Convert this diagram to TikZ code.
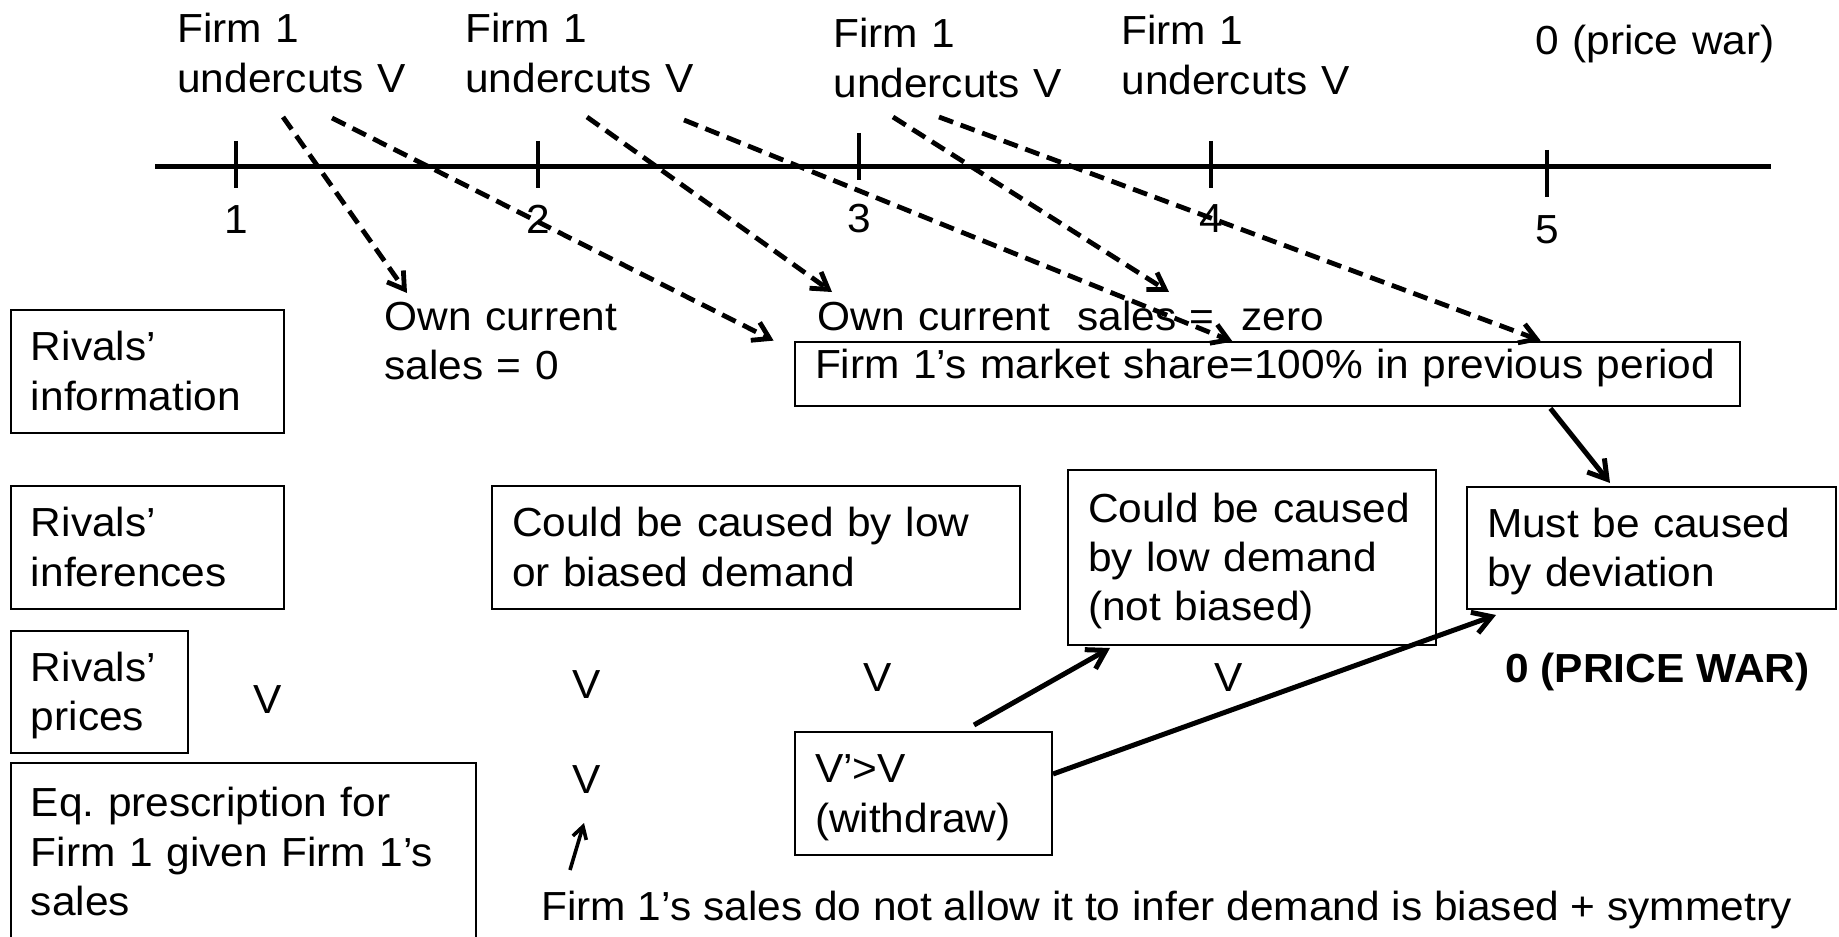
\documentclass[tikz,border=0pt]{standalone}
\usepackage{fontspec}
\setmainfont{Liberation Sans}[FakeStretch=1.045]
\usetikzlibrary{arrows.meta}
\newcommand{\slidesize}{\fontsize{20.3pt}{24.7pt}\selectfont}

\begin{document}
\begin{tikzpicture}[x=0.5pt, y=-0.5pt,
    every node/.style={inner sep=0pt, font=\slidesize},
    txt/.style={anchor=base west, align=left, text width=#1}, txt/.default=125pt,
    box/.style={draw, line width=1pt, align=left, inner xsep=10pt,
                text height=14pt, text depth=#1}, box/.default=24.7pt,
    hint/.style={-{Straight Barb[length=8pt,width=10pt]}, line width=2.4pt,
                 dash pattern=on 7.5pt off 4pt},
    infer/.style={-{Straight Barb[length=9pt,width=11pt]}, line width=2.5pt}]
    \useasboundingbox[fill=white] (0,0) rectangle (1839,936);

    % time line
    \draw[line width=2.5pt] (155,167) -- (1771,167);
    \draw[line width=2pt] (236,141) -- (236,188);
    \draw[line width=2pt] (538,141) -- (538,188);
    \draw[line width=2pt] (859,133) -- (859,180);
    \draw[line width=2pt] (1211,141) -- (1211,188);
    \draw[line width=2pt] (1547,150) -- (1547,197);
    \node[anchor=base] (t1) at (236,234) {1};
    \node[anchor=base] (t2) at (538,234) {2};
    \node[anchor=base] (t3) at (859,233) {3};
    \node[anchor=base] (t4) at (1211,233) {4};
    \node[anchor=base] (t5) at (1547,243) {5};

    % what firm 1 does in each period
    \node[txt] (lbl1) at (177,43) {Firm 1\\undercuts V};
    \node[txt] (lbl2) at (465,43) {Firm 1\\undercuts V};
    \node[txt] (lbl3) at (833,48) {Firm 1\\undercuts V};
    \node[txt] (lbl4) at (1121,45) {Firm 1\\undercuts V};
    \node[txt=150pt] (war) at (1535,55) {0 (price war)};

    \node[txt] (own1) at (384,330) {Own current\\sales = 0};
    \node[txt=260pt] (own2) at (817,330) {Own current~ sales =~ zero};

    % row headers
    \node[box, text width=116.5pt, minimum height=61.5pt] (rinfo) at (147.5,371.5) {Rivals’\\information};
    \node[box, text width=116.5pt, minimum height=61.5pt] (rinfer) at (147.5,547.5) {Rivals’\\inferences};
    \node[box, text width=68.5pt, minimum height=61pt] (rprice) at (99.5,692) {Rivals’\\prices};
    \node[box=49.4pt, text width=212.5pt, minimum height=89pt] (eqpres) at (243.5,852) {Eq.\ prescription for\\Firm 1 given Firm 1’s\\sales};

    % inferences
    \node[box=10pt, line width=1.4pt, text width=452.5pt, minimum height=32pt] (share) at (1267.5,374) {Firm 1’s market share=100\% in previous period};
    \node[box, text width=244pt, minimum height=61.5pt] (lowbias) at (756,547.5) {Could be caused by low\\or biased demand};
    \node[box=49.4pt, text width=164pt, minimum height=87.5pt] (lownb) at (1252,557.5) {Could be caused\\by low demand\\(not biased)};
    \node[box, text width=164.5pt, minimum height=61pt] (deviate) at (1651.5,548) {Must be caused\\by deviation};
    \node[box, text width=108.5pt, minimum height=61.5pt] (withdraw) at (923.5,793.5) {V’>V\\(withdraw)};

    % prices
    \node[anchor=base] (v1) at (268,713) {V};
    \node[anchor=base] (v2) at (587,698) {V};
    \node[anchor=base] (v3) at (878,691) {V};
    \node[anchor=base] (v4) at (1229,691) {V};
    \node[anchor=base] (v5) at (587,793) {V};
    \node[anchor=base west, font=\slidesize\bfseries] (pwar) at (1505,682) {0 (PRICE WAR)};
    \node[anchor=base west] (note) at (541,920) {Firm 1’s sales do not allow it to infer demand is biased + symmetry};

    \path
        ([shift={(106,74)}]lbl1.base west) edge[hint] ([shift={(23,-37)}]own1.base west)
        ([shift={(155,75)}]lbl1.base west) edge[hint] ([shift={(-20,0)}]share.north west)
        ([shift={(122,74)}]lbl2.base west) edge[hint] ([shift={(15,-38)}]own2.base west)
        ([shift={(219,77)}]lbl2.base west) edge[hint] ([shift={(439,1)}]share.north west)
        ([shift={(60,69)}]lbl3.base west) edge[hint] ([shift={(352,-38)}]own2.base west)
        ([shift={(106,69)}]lbl3.base west) edge[hint] ([shift={(747,0)}]share.north west);
    \path
        ([shift={(-191,1)}]share.south east) edge[infer] ([shift={(-41.5,-3)}]deviate.north)
        ([shift={(50.5,-6)}]withdraw.north) edge[infer] ([shift={(43,2)}]lownb.south west)
        ([shift={(0,-19.5)}]withdraw.east) edge[infer] ([shift={(30,5)}]deviate.south west);
    \draw[-{Straight Barb[length=6pt,width=7pt]}, line width=1.8pt]
        ([shift={(29,-50)}]note.base west) -- ([shift={(-3,30)}]v5.base);
\end{tikzpicture}
\end{document}
